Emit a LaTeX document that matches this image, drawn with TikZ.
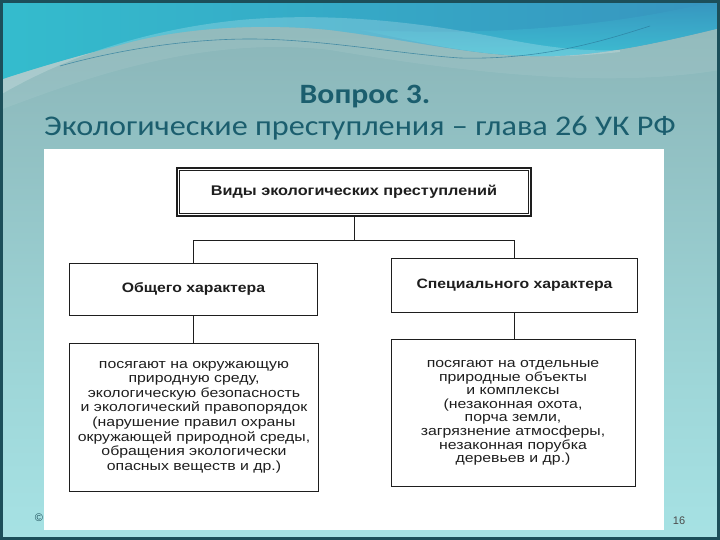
\documentclass[tikz,border=0pt]{standalone}
\usepackage{fontspec}
\setmainfont{Liberation Sans}
\newfontfamily\titlefont[FakeStretch=1.13]{Carlito}
\newfontfamily\boldwide[FakeStretch=1.16]{Liberation Sans}
\newfontfamily\textwide[FakeStretch=1.2]{Liberation Sans}
\definecolor{bgbot}{HTML}{B4F6F8}
\definecolor{bgmid}{HTML}{9ED6D8}
\definecolor{bgtopg}{HTML}{8AB4B7}
\definecolor{bgtop}{HTML}{8AAFB3}
\definecolor{wavel}{HTML}{34BCCD}
\definecolor{waver}{HTML}{3795BF}
\definecolor{wavec}{HTML}{40C6D6}
\definecolor{titlecol}{HTML}{1B5E6E}
\definecolor{framecol}{HTML}{1C4F5A}
\definecolor{ink}{HTML}{1E1E1E}
\definecolor{thinwave}{HTML}{2B7C9C}
\pgfdeclareverticalshading{slidebg}{100bp}{color(0bp)=(bgbot); color(40bp)=(bgmid); color(74bp)=(bgtopg); color(100bp)=(bgtop)}
\tikzset{
  box/.style={draw=ink, line width=1pt, fill=white, inner sep=0pt, align=center, text=ink},
  headbox/.style={box, line width=2.4pt, minimum width=354pt, minimum height=48pt, font=\boldwide\bfseries\fontsize{14}{16}\selectfont},
  midbox/.style={box, font=\boldwide\bfseries\fontsize{13.6}{16}\selectfont},
  lowbox/.style={box, font=\textwide\fontsize{13.2}{14.6}\selectfont},
  conn/.style={draw=ink, line width=0.9pt}
}
\begin{document}
\begin{tikzpicture}[x=1pt,y=-1pt]
\useasboundingbox (0,0) rectangle (720,540);
% background
\shade[shading=slidebg] (0,0) rectangle (720,540);
% top wave band
\shade[left color=wavel, right color=waver]
  (0,0) -- (720,0) -- (720,28)
  .. controls (650,45) and (590,58) .. (530,56)
  .. controls (470,55) and (410,40) .. (330,30)
  .. controls (250,22) and (170,30) .. (120,45)
  .. controls (70,58) and (30,70) .. (0,80) -- cycle;
\shade[top color=waver, bottom color=wavec, opacity=0.8]
  (360,30) .. controls (410,40) and (470,55) .. (530,56)
  .. controls (590,58) and (650,45) .. (720,28)
  -- (720,0) .. controls (600,30) and (480,35) .. (360,30) -- cycle;
\fill[white, opacity=0.2]
  (0,95) .. controls (60,60) and (140,30) .. (240,20)
  .. controls (330,12) and (420,22) .. (500,38)
  .. controls (540,46) and (580,52) .. (620,50)
  -- (620,52) .. controls (580,56) and (560,57) .. (530,56)
  .. controls (470,55) and (410,40) .. (330,30)
  .. controls (250,22) and (170,30) .. (120,45)
  .. controls (70,58) and (30,70) .. (0,80) -- cycle;
\fill[white, opacity=0.07] (0,80) .. controls (30,70) and (70,58) .. (120,45)
  .. controls (170,30) and (250,22) .. (330,30)
  .. controls (410,40) and (470,55) .. (530,56)
  .. controls (590,58) and (650,45) .. (720,28)
  -- (720,70) .. controls (600,90) and (450,70) .. (330,50)
  .. controls (200,35) and (80,80) .. (0,110) -- cycle;
\draw[thinwave, line width=0.6pt, opacity=0.75]
  (60,66) .. controls (110,52) and (180,39) .. (250,39)
  .. controls (320,39) and (400,54) .. (460,58)
  .. controls (540,60) and (600,42) .. (650,26);
% title
\node[text=titlecol, font=\titlefont\bfseries\fontsize{28}{30}\selectfont] (t1) at (365,97) {Вопрос 3.};
\node[text=titlecol, font=\titlefont\fontsize{28.5}{32}\selectfont] (t2) at (360,128) {Экологические преступления – глава 26 УК РФ};
% footer
\node[text=framecol, font=\fontsize{11}{12}\selectfont, inner sep=0pt] (copy) at (39,518) {©};
\node[text=ink!80, font=\fontsize{11}{12}\selectfont, inner sep=0pt] (pnum) at (679,521) {16};
% white panel
\fill[white] (44,149) rectangle (664,530);
% boxes
\node[headbox] (top) at (354,192) {Виды экологических преступлений};
\draw[ink, line width=0.7pt] ([shift={(3.5pt,-3.5pt)}]top.north west) rectangle ([shift={(-3.5pt,3.5pt)}]top.south east);
\node[midbox, minimum width=248pt, minimum height=52pt] (lm) at (193.5,289) {Общего характера};
\node[midbox, minimum width=246pt, minimum height=54pt] (rm) at (514.5,285.5) {Специального характера};
\node[lowbox, minimum width=249pt, minimum height=148pt] (lb) at (194,417)
  {посягают на окружающую\\природную среду,\\экологическую безопасность\\и экологический правопорядок\\(нарушение правил охраны\\окружающей природной среды,\\обращения экологически\\опасных веществ и др.)};
\node[lowbox, font=\textwide\fontsize{13.2}{13.6}\selectfont, minimum width=244pt, minimum height=147pt] (rb) at (513,413)
  {посягают на отдельные\\природные объекты\\и комплексы\\(незаконная охота,\\порча земли,\\загрязнение атмосферы,\\незаконная порубка\\деревьев и др.)};
% connectors
\coordinate (j) at (354,240);
\draw[conn] (top.south) -- (j);
\draw[conn] (lm.north) -- (lm.north |- j) -- (rm.north |- j) -- (rm.north);
\draw[conn] (lm.south) -- (lm.south |- lb.north);
\draw[conn] (rm.south) -- (rm.south |- rb.north);
% frame
\draw[framecol, line width=3pt] (1.5,1.5) rectangle (718.5,538.5);
\end{tikzpicture}
\end{document}
